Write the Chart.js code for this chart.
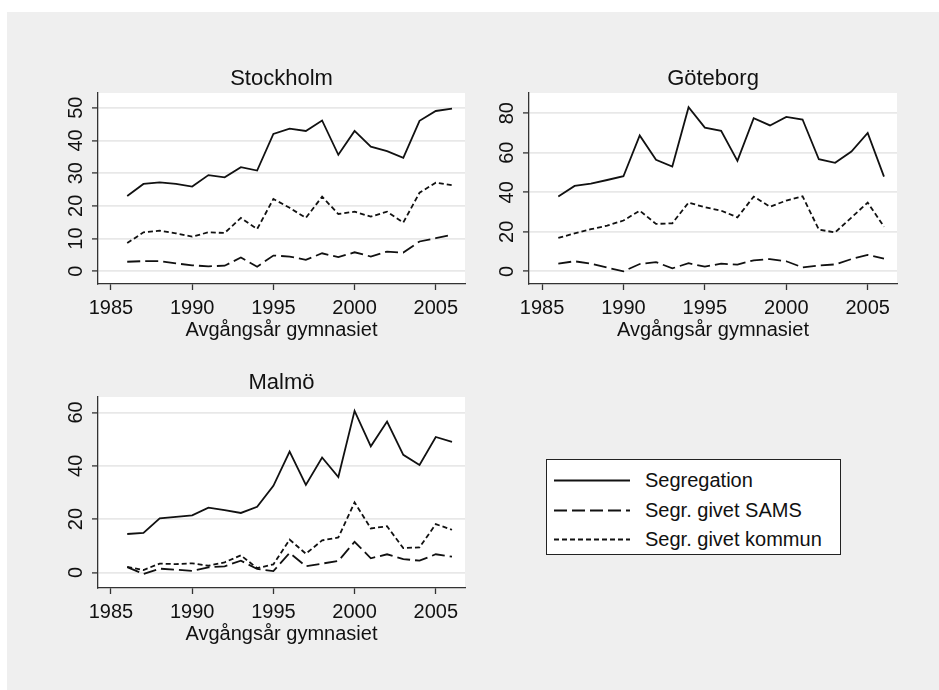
<!DOCTYPE html>
<html>
<head>
<meta charset="utf-8">
<script src="https://cdn.jsdelivr.net/npm/chart.js@4.4.1/dist/chart.umd.min.js"></script>
<style>
  html, body { margin: 0; padding: 0; background: #fff; }
  body { width: 939px; height: 690px; position: relative; overflow: hidden; font-family: "Liberation Sans", Arial, sans-serif; }
  #bg { position: absolute; left: 7px; top: 12px; right: 0; bottom: 0; background: #efefef; }
  canvas { position: absolute; }
  #legend { position: absolute; left: 546px; top: 459px; width: 293px; height: 94px; background: #fff; border: 1px solid #222; }
  .row { position: absolute; left: 0; height: 24px; width: 290px; }
  .row svg { position: absolute; left: 7px; top: 0; }
  .row span { position: absolute; left: 98px; top: 0; line-height: 24px; font-size: 20px; color: #111; white-space: nowrap; }
</style>
</head>
<body>
<div id="bg"></div>
<canvas id="sthlm" width="440" height="300" style="left:40px;top:50px"></canvas>
<canvas id="gbg" width="441" height="300" style="left:471px;top:50px"></canvas>
<canvas id="malmo" width="440" height="300" style="left:40px;top:354px"></canvas>
<div id="legend"></div>

<script>
// data
const years = [1986, 1987, 1988, 1989, 1990, 1991, 1992, 1993, 1994, 1995, 1996,
               1997, 1998, 1999, 2000, 2001, 2002, 2003, 2004, 2005, 2006]
const xTicks = [1985, 1990, 1995, 2000, 2005]
const seriesNames = ['Segregation', 'Segr. givet SAMS', 'Segr. givet kommun']

const sthlmSegregation = [23.0, 26.7, 27.2, 26.7, 25.9, 29.4, 28.7, 31.8, 30.8, 42.0, 43.6,
                          42.9, 46.1, 35.6, 42.9, 38.1, 36.7, 34.7, 46.0, 49.0, 49.7]
const sthlmSams        = [2.9, 3.1, 3.1, 2.4, 1.8, 1.5, 1.7, 4.2, 1.4, 4.8, 4.5,
                          3.5, 5.5, 4.3, 5.8, 4.5, 6.0, 5.7, 9.1, 10.1, 11.2]
const sthlmKommun      = [8.6, 11.9, 12.4, 11.6, 10.6, 11.9, 11.7, 16.3, 12.9, 22.1, 19.4,
                          16.3, 22.8, 17.5, 18.2, 16.7, 18.2, 14.9, 24.0, 27.1, 26.3]
const sthlmYTicks = [0, 10, 20, 30, 40, 50]

const gbgSegregation = [37.8, 43.2, 44.4, 46.2, 48.1, 68.7, 56.4, 53.0, 83.0, 72.7, 71.1,
                        55.9, 77.5, 73.8, 78.1, 76.8, 56.7, 54.9, 60.6, 70.0, 47.9]
const gbgSams        = [3.9, 5.1, 3.9, 1.9, 0.0, 3.7, 4.7, 1.5, 4.1, 2.4, 3.9,
                        3.4, 5.6, 6.2, 5.1, 2.0, 3.0, 3.5, 6.2, 8.3, 6.4]
const gbgKommun      = [16.9, 19.2, 21.3, 23.1, 25.7, 30.7, 24.0, 24.3, 34.8, 32.4, 30.7,
                        27.3, 37.8, 32.7, 35.8, 38.0, 21.1, 19.7, 27.2, 34.8, 22.6]
const gbgYTicks = [0, 20, 40, 60, 80]

const malmoSegregation = [14.4, 14.8, 20.3, 20.8, 21.4, 24.3, 23.4, 22.3, 24.6, 32.5, 45.3,
                          32.8, 43.1, 35.8, 60.6, 47.3, 56.6, 44.1, 40.3, 50.8, 49.0]
const malmoSams        = [2.0, -0.6, 1.4, 1.0, 0.6, 1.9, 2.3, 4.4, 1.3, 0.5, 7.3,
                          2.3, 3.3, 4.3, 11.5, 5.3, 6.8, 5.0, 4.4, 6.8, 5.9]
const malmoKommun      = [2.1, 0.9, 3.3, 3.1, 3.4, 2.5, 3.8, 6.4, 1.6, 3.0, 12.3,
                          7.0, 12.0, 13.1, 26.3, 16.5, 17.3, 9.1, 9.4, 18.1, 16.0]
const malmoYTicks = [0, 20, 40, 60]

// styles
const FONT = '"Liberation Sans", Arial, sans-serif'
const lineDashes = [[], [13, 5], [5, 3]]
const INK = '#111'

// white plot region, rotated y labels, panel title
const panelDecor = {
  id: 'panelDecor',
  beforeDraw(chart) {
    const a = chart.chartArea
    const ctx = chart.ctx
    ctx.save()
    ctx.fillStyle = '#fff'
    ctx.fillRect(a.left, a.top, a.right - a.left, a.bottom - a.top)
    ctx.restore()
  },
  afterDraw(chart, args, opts) {
    const a = chart.chartArea
    const ctx = chart.ctx
    const yScale = chart.scales.y
    ctx.save()
    ctx.fillStyle = INK
    ctx.font = '20px ' + FONT
    ctx.textAlign = 'center'
    ctx.textBaseline = 'middle'
    opts.yTicks.forEach(v => {
      ctx.save()
      ctx.translate(a.left - 23, yScale.getPixelForValue(v))
      ctx.rotate(-Math.PI / 2)
      ctx.fillText(String(v), 0, 1)
      ctx.restore()
    })
    ctx.font = '22px ' + FONT
    ctx.fillText(opts.title, (a.left + a.right) / 2, a.top - 14)
    ctx.restore()
  }
}

function makePanel(id, title, seg, sams, kommun, yTicks, yMin, yMax) {
  const values = [seg, sams, kommun]
  new Chart(document.getElementById(id), {
    type: 'line',
    data: {
      datasets: values.map((vals, i) => ({
        label: seriesNames[i],
        data: years.map((yr, j) => ({ x: yr, y: vals[j] })),
        borderColor: INK,
        borderWidth: 1.8,
        borderDash: lineDashes[i],
        pointRadius: 0,
        tension: 0,
        fill: false
      }))
    },
    options: {
      responsive: false,
      animation: false,
      devicePixelRatio: 1,
      layout: { padding: { top: 43, right: 15, bottom: 5, left: 0 } },
      plugins: {
        legend: { display: false },
        tooltip: { enabled: false },
        panelDecor: { title: title, yTicks: yTicks }
      },
      scales: {
        x: {
          type: 'linear',
          min: 1984.2,
          max: 2006.8,
          afterBuildTicks: s => { s.ticks = xTicks.map(v => ({ value: v })) },
          afterFit: s => { s.height = 61 },
          grid: { display: true, drawOnChartArea: false, drawTicks: true, tickLength: 6, tickColor: '#333', tickWidth: 1.3 },
          border: { display: true, color: '#333', width: 1.3 },
          ticks: { color: INK, font: { family: FONT, size: 20 }, padding: 6, maxRotation: 0, autoSkip: false, callback: v => String(v) },
          title: { display: true, text: 'Avgångsår gymnasiet', color: INK, font: { family: FONT, size: 20 }, padding: { top: 0, bottom: 3 } }
        },
        y: {
          type: 'linear',
          min: yMin,
          max: yMax,
          afterBuildTicks: s => { s.ticks = yTicks.map(v => ({ value: v })) },
          afterFit: s => { s.width = 58 },
          grid: { display: true, color: '#e8e8e8', lineWidth: 1.8, drawTicks: true, tickLength: 6, tickColor: '#333', tickWidth: 1.3 },
          border: { display: true, color: '#333', width: 1.3 },
          ticks: { display: false }
        }
      }
    },
    plugins: [panelDecor]
  })
}

makePanel('sthlm', 'Stockholm', sthlmSegregation, sthlmSams, sthlmKommun, sthlmYTicks, -3.9, 54.5)
makePanel('gbg', 'Göteborg', gbgSegregation, gbgSams, gbgKommun, gbgYTicks, -6.4, 90.2)
makePanel('malmo', 'Malmö', malmoSegregation, malmoSams, malmoKommun, malmoYTicks, -5.85, 65.8)

// legend
const legend = document.getElementById('legend')
const rowTops = [8, 38, 67]
seriesNames.forEach((name, i) => {
  const row = document.createElement('div')
  row.className = 'row'
  row.style.top = rowTops[i] + 'px'
  row.innerHTML = '<svg width="80" height="24"><line x1="0" y1="12.5" x2="76" y2="12.5" stroke="' + INK +
    '" stroke-width="1.8" stroke-dasharray="' + (lineDashes[i].join(' ') || 'none') + '"/></svg><span>' + name + '</span>'
  legend.appendChild(row)
})
</script>
</body>
</html>
